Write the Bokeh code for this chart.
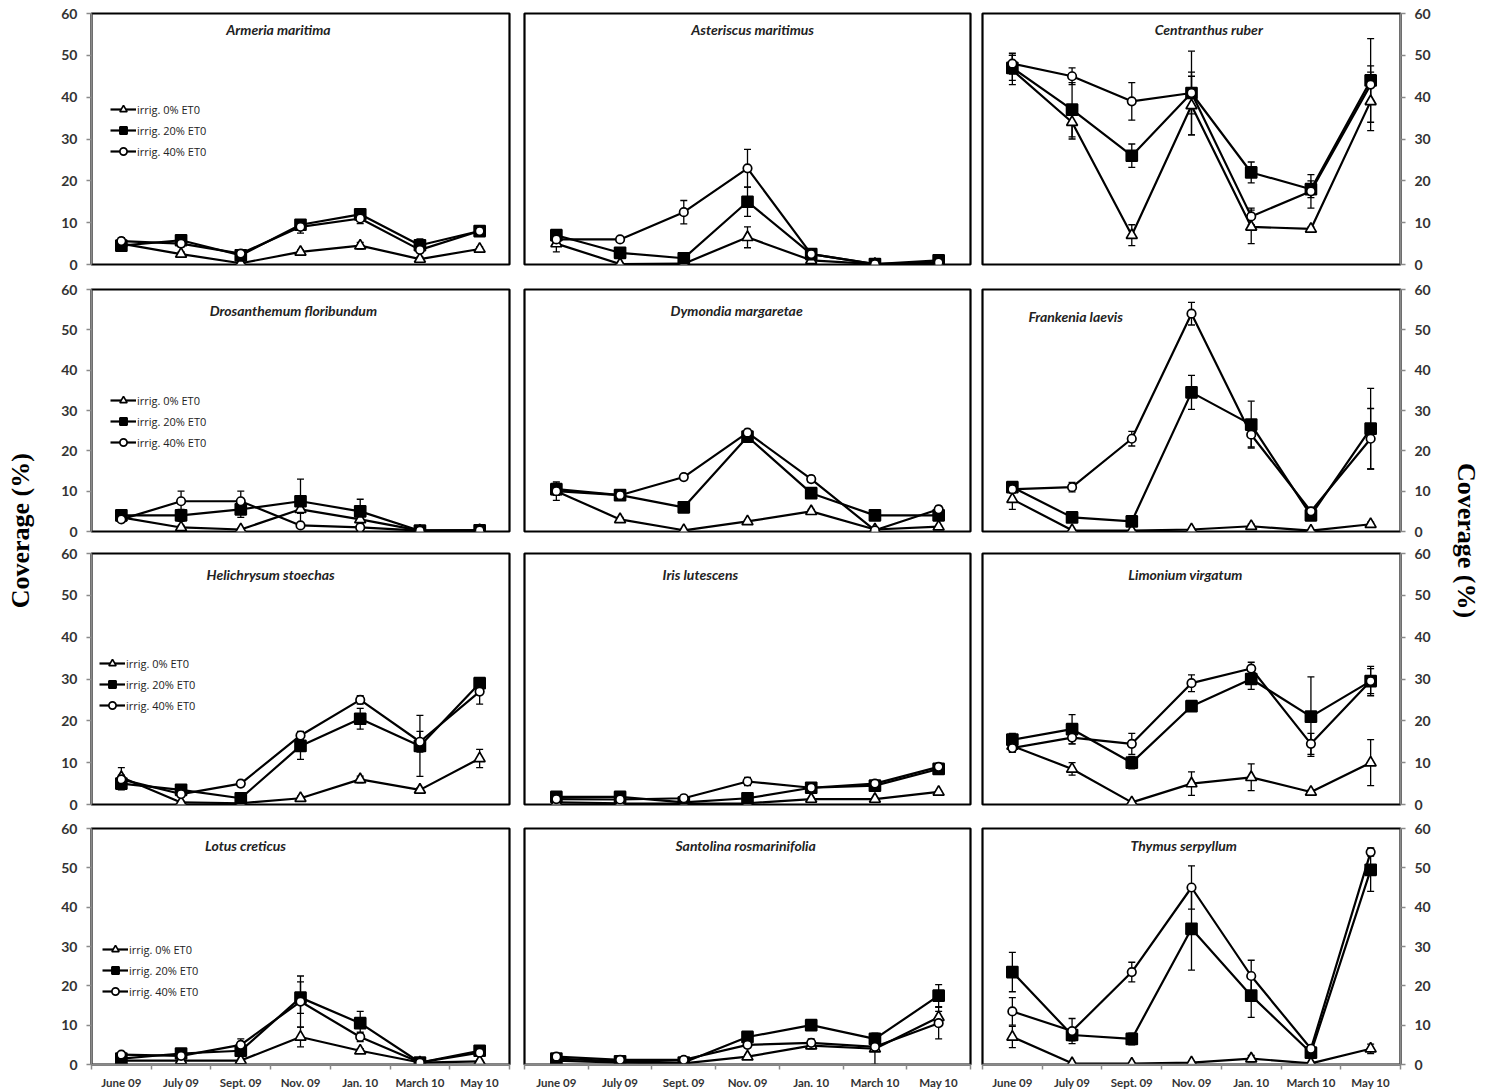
from bokeh.plotting import figure
from bokeh.models import (ColumnDataSource, Whisker, TeeHead, Legend, LegendItem,
                          Label, LinearAxis, FixedTicker, Range1d)
from bokeh.layouts import row, column
from bokeh.embed import file_html
from bokeh.resources import INLINE

# ---------------------------------------------------------------- data
months = ["June 09", "July 09", "Sept. 09", "Nov. 09", "Jan. 10", "March 10", "May 10"]
treatments = ["irrig. 0% ET0", "irrig. 20% ET0", "irrig. 40% ET0"]
y_ticks = [0, 10, 20, 30, 40, 50, 60]

species = ["Armeria maritima", "Asteriscus maritimus", "Centranthus ruber",
           "Drosanthemum floribundum", "Dymondia margaretae", "Frankenia laevis",
           "Helichrysum stoechas", "Iris lutescens", "Limonium virgatum",
           "Lotus creticus", "Santolina rosmarinifolia", "Thymus serpyllum"]

# mean coverage (%) and standard error, per irrigation level (0, 20, 40 % ET0)
armeria_0 = [5.0, 2.5, 0.3, 3.0, 4.5, 1.3, 3.7]
armeria_20 = [4.5, 5.8, 2.2, 9.5, 12.0, 4.6, 8.0]
armeria_40 = [5.6, 5.0, 2.6, 9.0, 11.0, 3.5, 8.0]
armeria_se0 = [0.5, 0.5, 0.3, 0.5, 0.8, 0.5, 0.5]
armeria_se20 = [0.8, 0.8, 0.6, 1.2, 1.0, 1.5, 0.8]
armeria_se40 = [0.8, 0.8, 0.6, 1.5, 1.2, 2.0, 0.8]

asteriscus_0 = [5.0, 0.1, 0.2, 6.5, 1.0, 0.1, 0.2]
asteriscus_20 = [7.0, 2.8, 1.5, 15.0, 2.5, 0.1, 1.0]
asteriscus_40 = [6.0, 6.0, 12.5, 23.0, 2.5, 0.1, 0.5]
asteriscus_se0 = [2.0, 0.2, 0.2, 2.5, 0.5, 0.0, 0.2]
asteriscus_se20 = [1.0, 0.5, 0.5, 3.5, 0.5, 0.0, 0.5]
asteriscus_se40 = [1.0, 0.5, 2.8, 4.5, 0.5, 0.0, 0.3]

centranthus_0 = [46.5, 34.0, 7.0, 38.0, 9.0, 8.5, 39.0]
centranthus_20 = [47.0, 37.0, 26.0, 41.0, 22.0, 18.0, 44.0]
centranthus_40 = [48.0, 45.0, 39.0, 41.0, 11.5, 17.5, 43.0]
centranthus_se0 = [3.5, 4.0, 2.5, 7.0, 4.0, 0.5, 7.0]
centranthus_se20 = [3.0, 6.5, 2.8, 10.0, 2.5, 2.0, 10.0]
centranthus_se40 = [2.5, 2.0, 4.5, 5.0, 2.0, 4.0, 4.5]

drosanthemum_0 = [3.5, 1.0, 0.5, 5.5, 3.0, 0.2, 0.3]
drosanthemum_20 = [4.0, 4.0, 5.5, 7.5, 5.0, 0.2, 0.3]
drosanthemum_40 = [3.0, 7.5, 7.5, 1.5, 1.0, 0.2, 0.3]
drosanthemum_se0 = [0.5, 0.5, 0.3, 1.0, 0.8, 0.0, 0.0]
drosanthemum_se20 = [0.8, 1.5, 2.0, 5.5, 3.0, 0.0, 0.0]
drosanthemum_se40 = [0.5, 2.5, 2.5, 0.5, 0.5, 0.0, 0.0]

dymondia_0 = [10.0, 3.0, 0.3, 2.5, 5.0, 0.5, 1.2]
dymondia_20 = [10.5, 9.0, 6.0, 23.5, 9.5, 4.0, 4.0]
dymondia_40 = [10.0, 9.0, 13.5, 24.5, 13.0, 0.3, 5.5]
dymondia_se0 = [2.3, 0.5, 0.2, 0.3, 0.5, 0.2, 0.3]
dymondia_se20 = [1.5, 0.5, 0.5, 0.8, 0.5, 0.3, 0.5]
dymondia_se40 = [1.0, 0.5, 0.5, 0.8, 0.8, 0.2, 0.8]

frankenia_0 = [8.0, 0.3, 0.2, 0.5, 1.3, 0.2, 1.8]
frankenia_20 = [11.0, 3.5, 2.5, 34.5, 26.5, 4.0, 25.5]
frankenia_40 = [10.5, 11.0, 23.0, 54.0, 24.0, 5.0, 23.0]
frankenia_se0 = [2.5, 0.2, 0.1, 0.3, 0.5, 0.1, 0.5]
frankenia_se20 = [1.0, 1.0, 0.8, 4.2, 5.8, 1.0, 10.0]
frankenia_se40 = [1.0, 1.2, 1.8, 2.8, 3.0, 1.0, 7.5]

helichrysum_0 = [6.5, 0.5, 0.3, 1.5, 6.0, 3.5, 11.0]
helichrysum_20 = [5.0, 3.5, 1.5, 14.0, 20.5, 14.0, 29.0]
helichrysum_40 = [6.0, 2.5, 5.0, 16.5, 25.0, 15.0, 27.0]
helichrysum_se0 = [2.3, 0.3, 0.2, 0.5, 0.8, 0.5, 2.2]
helichrysum_se20 = [1.5, 0.5, 0.5, 3.2, 2.5, 7.3, 1.0]
helichrysum_se40 = [1.0, 0.5, 0.5, 1.0, 1.0, 2.5, 3.0]

iris_0 = [0.5, 0.3, 0.2, 0.3, 1.3, 1.3, 3.0]
iris_20 = [1.8, 1.8, 0.5, 1.5, 4.0, 4.5, 8.5]
iris_40 = [1.3, 1.2, 1.5, 5.5, 4.0, 5.0, 9.0]
iris_se0 = [0.2, 0.2, 0.2, 0.2, 0.2, 0.2, 0.2]
iris_se20 = [0.5, 0.5, 0.2, 0.8, 0.5, 0.5, 0.8]
iris_se40 = [0.3, 0.3, 0.3, 1.0, 0.5, 0.5, 0.8]

limonium_0 = [14.0, 8.5, 0.5, 5.0, 6.5, 3.0, 10.0]
limonium_20 = [15.5, 18.0, 10.0, 23.5, 30.0, 21.0, 29.5]
limonium_40 = [13.5, 16.0, 14.5, 29.0, 32.5, 14.5, 29.5]
limonium_se0 = [1.5, 1.5, 0.3, 2.8, 3.2, 0.5, 5.5]
limonium_se20 = [1.5, 3.5, 1.5, 0.8, 2.5, 9.5, 3.0]
limonium_se40 = [1.0, 1.5, 2.5, 2.0, 1.5, 2.5, 3.5]

lotus_0 = [1.0, 1.0, 1.0, 7.0, 3.5, 0.5, 0.8]
lotus_20 = [1.5, 2.8, 3.5, 17.0, 10.5, 0.5, 3.5]
lotus_40 = [2.5, 2.2, 5.0, 16.0, 7.0, 0.5, 3.0]
lotus_se0 = [0.3, 0.3, 0.3, 2.5, 0.5, 0.2, 0.3]
lotus_se20 = [0.3, 0.5, 1.5, 4.0, 3.0, 0.2, 0.5]
lotus_se40 = [0.5, 0.5, 1.5, 6.5, 1.2, 0.2, 0.5]

santolina_0 = [1.0, 0.5, 0.3, 2.0, 4.8, 4.0, 12.0]
santolina_20 = [1.5, 0.8, 0.5, 7.0, 10.0, 6.5, 17.5]
santolina_40 = [2.0, 1.2, 1.2, 5.0, 5.5, 4.5, 10.5]
santolina_se0 = [0.3, 0.2, 0.2, 0.5, 0.8, 4.0, 1.5]
santolina_se20 = [0.3, 0.2, 0.2, 0.5, 0.5, 0.8, 2.8]
santolina_se40 = [0.3, 0.3, 0.3, 0.5, 1.0, 1.0, 4.0]

thymus_0 = [7.0, 0.3, 0.2, 0.5, 1.5, 0.3, 4.0]
thymus_20 = [23.5, 7.5, 6.5, 34.5, 17.5, 3.0, 49.5]
thymus_40 = [13.5, 8.5, 23.5, 45.0, 22.5, 4.0, 54.0]
thymus_se0 = [2.7, 0.2, 0.1, 0.3, 0.8, 0.2, 1.2]
thymus_se20 = [5.0, 1.5, 1.5, 10.5, 5.5, 0.5, 5.5]
thymus_se40 = [3.5, 3.2, 2.5, 5.5, 4.0, 0.5, 1.0]

means = [
    (armeria_0, armeria_20, armeria_40),
    (asteriscus_0, asteriscus_20, asteriscus_40),
    (centranthus_0, centranthus_20, centranthus_40),
    (drosanthemum_0, drosanthemum_20, drosanthemum_40),
    (dymondia_0, dymondia_20, dymondia_40),
    (frankenia_0, frankenia_20, frankenia_40),
    (helichrysum_0, helichrysum_20, helichrysum_40),
    (iris_0, iris_20, iris_40),
    (limonium_0, limonium_20, limonium_40),
    (lotus_0, lotus_20, lotus_40),
    (santolina_0, santolina_20, santolina_40),
    (thymus_0, thymus_20, thymus_40),
]
errors = [
    (armeria_se0, armeria_se20, armeria_se40),
    (asteriscus_se0, asteriscus_se20, asteriscus_se40),
    (centranthus_se0, centranthus_se20, centranthus_se40),
    (drosanthemum_se0, drosanthemum_se20, drosanthemum_se40),
    (dymondia_se0, dymondia_se20, dymondia_se40),
    (frankenia_se0, frankenia_se20, frankenia_se40),
    (helichrysum_se0, helichrysum_se20, helichrysum_se40),
    (iris_se0, iris_se20, iris_se40),
    (limonium_se0, limonium_se20, limonium_se40),
    (lotus_se0, lotus_se20, lotus_se40),
    (santolina_se0, santolina_se20, santolina_se40),
    (thymus_se0, thymus_se20, thymus_se40),
]

# ---------------------------------------------------------------- layout / style
FRAME_W = [418, 446, 418]
FRAME_H = [251, 242, 251, 236]
BORDER_L = [46, 8, 6]
BORDER_R = [7, 6, 48]
BORDER_T = [13, 13, 11, 12]
BORDER_B = [12, 11, 12, 27]

# title anchor (x in category units, y in coverage units) for each panel
TITLE_POS = [(3.13, 56.2), (3.58, 56.2), (3.79, 56.2),
             (3.38, 54.8), (3.33, 54.8), (1.56, 53.4),
             (3.0, 55.0), (2.76, 55.0), (3.4, 55.0),
             (2.58, 55.7), (3.47, 55.7), (3.37, 55.7)]
# legend offsets in px from the frame's bottom-left, for panels that carry one
LEGEND_POS = {0: (19, 104), 3: (19, 80), 6: (8, 90), 9: (11, 64)}

MARKERS = [dict(marker="triangle", size=11, fill_color="white"),
           dict(marker="square", size=11, fill_color="black"),
           dict(marker="circle", size=8.5, fill_color="white")]

TICK_FONT = "Lato"
AXIS_GREY = "#8a8a8a"


def style_axis(ax):
    ax.axis_line_color = AXIS_GREY
    ax.axis_line_width = 1.5
    ax.major_tick_line_color = AXIS_GREY
    ax.major_tick_line_width = 1.5
    ax.major_tick_in = 0
    ax.major_tick_out = 5
    ax.minor_tick_line_color = AXIS_GREY
    ax.minor_tick_line_width = 1.5
    ax.minor_tick_in = 0
    ax.minor_tick_out = 0
    ax.major_label_text_font = TICK_FONT
    ax.major_label_text_font_style = "bold"
    ax.major_label_text_font_size = "14px"
    ax.major_label_text_color = "#333333"


def make_panel(idx):
    r, c = divmod(idx, 3)
    n = len(months)
    p = figure(frame_width=FRAME_W[c], frame_height=FRAME_H[r],
               min_border_left=BORDER_L[c], min_border_right=BORDER_R[c],
               min_border_top=BORDER_T[r], min_border_bottom=BORDER_B[r],
               x_range=Range1d(0, n), y_range=Range1d(0, 60),
               x_axis_location=None, y_axis_location=None, title=None,
               toolbar_location=None, output_backend="svg")
    p.xgrid.grid_line_color = None
    p.ygrid.grid_line_color = None
    p.outline_line_color = "black"
    p.outline_line_width = 2.2
    p.background_fill_color = "white"
    p.border_fill_color = "white"

    if c in (0, 2):
        yax = LinearAxis(ticker=FixedTicker(ticks=y_ticks))
        style_axis(yax)
        yax.major_label_standoff = 9
        p.add_layout(yax, "left" if c == 0 else "right")
    if r == 3:
        centers = [i + 0.5 for i in range(n)]
        xax = LinearAxis(ticker=FixedTicker(ticks=centers, minor_ticks=list(range(n + 1))))
        style_axis(xax)
        xax.major_tick_out = 0
        xax.minor_tick_out = 5
        xax.major_label_standoff = 6
        xax.major_label_text_font_size = "11.5px"
        xax.major_label_overrides = {x: m for x, m in zip(centers, months)}
        p.add_layout(xax, "below")

    xs = [i + 0.5 for i in range(n)]
    items = []
    for k, (mean, err) in enumerate(zip(means[idx], errors[idx])):
        keep = [i for i in range(n) if err[i] > 0]
        esrc = ColumnDataSource(dict(
            x=[xs[i] for i in keep],
            lo=[mean[i] - err[i] for i in keep],
            hi=[mean[i] + err[i] for i in keep]))
        p.add_layout(Whisker(source=esrc, base="x", lower="lo", upper="hi",
                             line_color="black", line_width=1.3,
                             upper_head=TeeHead(size=7, line_width=1.3, line_color="black"),
                             lower_head=TeeHead(size=7, line_width=1.3, line_color="black")))
        src = ColumnDataSource(dict(x=xs, y=mean))
        ln = p.line("x", "y", source=src, line_color="black", line_width=2.2)
        sc = p.scatter("x", "y", source=src, line_color="black", line_width=1.7,
                       **MARKERS[k])
        items.append(LegendItem(label=treatments[k], renderers=[ln, sc]))

    if idx in LEGEND_POS:
        leg = Legend(items=items, location=LEGEND_POS[idx],
                     background_fill_alpha=0, border_line_alpha=0,
                     label_text_font="Open Sans", label_text_font_size="11px",
                     label_text_color="#222222", label_standoff=1,
                     glyph_width=26, glyph_height=18, label_height=18,
                     spacing=3, padding=0, margin=0)
        p.add_layout(leg)

    tx, ty = TITLE_POS[idx]
    p.add_layout(Label(x=tx, y=ty, text=species[idx], text_font="Lato",
                       text_font_style="bold italic", text_font_size="14px",
                       text_color="#222222", text_align="center",
                       text_baseline="middle"))
    return p


def side_label(width, angle, xfrac, yfrac):
    f = figure(width=width, height=sum(FRAME_H) + sum(BORDER_T) + sum(BORDER_B),
               x_range=Range1d(0, 1), y_range=Range1d(0, 1),
               x_axis_location=None, y_axis_location=None, title=None,
               min_border=0, toolbar_location=None, output_backend="svg")
    f.xgrid.grid_line_color = None
    f.ygrid.grid_line_color = None
    f.outline_line_color = None
    f.add_layout(Label(x=xfrac, y=yfrac, text="Coverage (%)", angle=angle,
                       text_font="Liberation Serif", text_font_style="bold",
                       text_font_size="26px", text_color="black",
                       text_align="center", text_baseline="middle"))
    return f


panels = [make_panel(i) for i in range(len(species))]
grid = column(*[row(*panels[3 * r:3 * r + 3]) for r in range(4)])
left = side_label(45, 1.5708, 0.44, 0.514)
right = side_label(40, -1.5708, 0.45, 0.505)
page = row(left, grid, right)

open("out.html", "w").write(file_html(page, INLINE, title="Coverage"))
